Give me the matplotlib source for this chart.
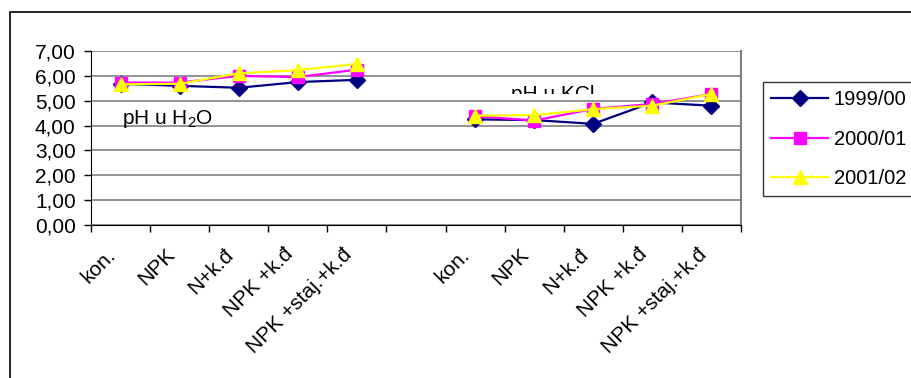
import matplotlib
matplotlib.use("Agg")
import matplotlib.pyplot as plt
import numpy as np
from matplotlib.transforms import Bbox, TransformedBbox
from matplotlib.ticker import FuncFormatter, FixedLocator

plt.rcParams['font.family'] = ['Liberation Sans', 'DejaVu Sans']
plt.rcParams['mathtext.fontset'] = 'custom'
plt.rcParams['mathtext.rm'] = 'Liberation Sans'
plt.rcParams['mathtext.it'] = 'Liberation Sans'

categories = ["kon.", "NPK", "N+k.đ", "NPK +k.đ", "NPK +staj.+k.đ", "",
              "kon.", "NPK", "N+k.đ", "NPK +k.đ", "NPK +staj.+k.đ"]
series_names = ["1999/00", "2000/01", "2001/02"]
s1999 = [5.68, 5.60, 5.52, 5.75, 5.84, np.nan, 4.25, 4.22, 4.07, 4.93, 4.80]
s2000 = [5.73, 5.73, 6.00, 5.95, 6.25, np.nan, 4.38, 4.20, 4.67, 4.87, 5.27]
s2001 = [5.66, 5.68, 6.10, 6.23, 6.48, np.nan, 4.40, 4.42, 4.66, 4.80, 5.27]
label_h2o = "pH u H$_2$O"
label_kcl = "pH u KCl"

FS = 15
W, H = 912, 378
fig = plt.figure(figsize=(W/100, H/100), dpi=100)
frame = plt.Rectangle((10/W, -0.1), 1.2, 1 - 12/H + 0.1, transform=fig.transFigure,
                      fill=False, edgecolor='black', linewidth=1.2)
fig.patches.append(frame)

ax = fig.add_axes([91/W, 1 - 225/H, (741 - 91)/W, (225 - 51)/H])
x = np.arange(len(categories))

styles = [
    dict(color='#000080', marker='D', markersize=8, mfc='#000080', mec='#000080'),
    dict(color='#FF00FF', marker='s', markersize=8, mfc='#FF00FF', mec='#FF00FF'),
    dict(color='#FFFF00', marker='^', markersize=10, mfc='#FFFF00', mec='#FFFF00'),
]
for name, vals, st in zip(series_names, [s1999, s2000, s2001], styles):
    ax.plot(x, vals, linewidth=1.6, label=name, **st, zorder=3)

ax.set_xlim(-0.5, len(categories) - 0.5)
ax.set_ylim(0, 7)
ax.set_yticks(np.arange(0, 8, 1))
ax.yaxis.set_major_formatter(FuncFormatter(lambda v, p: f"{v:.2f}".replace('.', ',')))
ax.grid(axis='y', color='#808080', linewidth=1.2, zorder=0)
ax.set_axisbelow(True)

ax.xaxis.set_major_locator(FixedLocator(np.arange(-0.5, len(categories), 1)))
ax.xaxis.set_major_formatter(FuncFormatter(lambda v, p: ""))
ax.tick_params(axis='x', length=5, width=1, direction='out', color='black')
ax.tick_params(axis='y', length=5, width=1, direction='out', color='black', labelsize=FS, pad=6)
for i, c in enumerate(categories):
    ax.text(i - 0.25, -0.8, c, rotation=45, ha='right', va='top', rotation_mode='anchor',
            fontsize=FS, transform=ax.transData, clip_on=False)

ax.spines['top'].set_visible(False)
ax.spines['right'].set_color('#808080')
ax.spines['right'].set_linewidth(1.5)
ax.spines['left'].set_color('black')
ax.spines['bottom'].set_color('black')

ax.text(0.03, 4.06, label_h2o, fontsize=FS, ha='left', va='baseline', zorder=2)
t = ax.text(6.6, 5.03, label_kcl, fontsize=FS, ha='left', va='baseline', zorder=2)
t.set_clip_box(TransformedBbox(Bbox([[6.0, 5.27], [8.5, 7.0]]), ax.transData))
t.set_clip_on(True)

leg = ax.legend(loc='upper left', bbox_to_anchor=(763/W, 1 - 82/H), bbox_transform=fig.transFigure,
                fontsize=14.5, frameon=True, fancybox=False, edgecolor='black',
                handlelength=2.8, handletextpad=0.3, borderpad=0.42, labelspacing=1.0,
                borderaxespad=0)
leg.get_frame().set_linewidth(1.0)

fig.savefig("out.png", dpi=100)
